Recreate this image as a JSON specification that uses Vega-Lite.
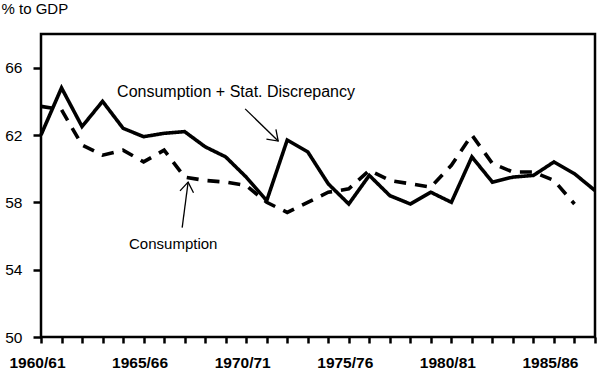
{
  "$schema": "https://vega.github.io/schema/vega-lite/v6.json",
  "autosize": {"type": "none"},
  "padding": {"left": 41, "top": 34, "right": 5, "bottom": 33},
  "width": 554,
  "height": 303,
  "config": {
    "view": {"stroke": "#000", "strokeWidth": 2.5},
    "font": "Liberation Sans",
    "axis": {"domain": false, "grid": false, "tickColor": "#000", "tickWidth": 2.5, "labelColor": "#000", "titleColor": "#000", "labelFont": "Liberation Sans", "titleFont": "Liberation Sans"}
  },
  "datasets": {
    "series": [
      {"year": 1960, "cons_sd": 62.0, "cons": 63.7},
      {"year": 1961, "cons_sd": 64.8, "cons": 63.5},
      {"year": 1962, "cons_sd": 62.5, "cons": 61.4},
      {"year": 1963, "cons_sd": 64.0, "cons": 60.8},
      {"year": 1964, "cons_sd": 62.4, "cons": 61.1},
      {"year": 1965, "cons_sd": 61.9, "cons": 60.4},
      {"year": 1966, "cons_sd": 62.1, "cons": 61.1},
      {"year": 1967, "cons_sd": 62.2, "cons": 59.5},
      {"year": 1968, "cons_sd": 61.3, "cons": 59.3},
      {"year": 1969, "cons_sd": 60.7, "cons": 59.2},
      {"year": 1970, "cons_sd": 59.5, "cons": 59.0},
      {"year": 1971, "cons_sd": 58.1, "cons": 58.0},
      {"year": 1972, "cons_sd": 61.7, "cons": 57.4},
      {"year": 1973, "cons_sd": 61.0, "cons": 58.0},
      {"year": 1974, "cons_sd": 59.1, "cons": 58.6},
      {"year": 1975, "cons_sd": 57.9, "cons": 58.8},
      {"year": 1976, "cons_sd": 59.6, "cons": 59.9},
      {"year": 1977, "cons_sd": 58.4, "cons": 59.3},
      {"year": 1978, "cons_sd": 57.9, "cons": 59.1},
      {"year": 1979, "cons_sd": 58.6, "cons": 58.9},
      {"year": 1980, "cons_sd": 58.0, "cons": 60.2},
      {"year": 1981, "cons_sd": 60.7, "cons": 62.0},
      {"year": 1982, "cons_sd": 59.2, "cons": 60.3},
      {"year": 1983, "cons_sd": 59.5, "cons": 59.8},
      {"year": 1984, "cons_sd": 59.6, "cons": 59.8},
      {"year": 1985, "cons_sd": 60.4, "cons": 59.3},
      {"year": 1986, "cons_sd": 59.7, "cons": 57.9},
      {"year": 1987, "cons_sd": 58.7, "cons": null}
    ],
    "labels": [
      {"label": "Consumption + Stat. Discrepancy", "x": 1963.71, "y": 64.27, "size": "big"},
      {"label": "Consumption", "x": 1964.29, "y": 55.25, "size": "small"}
    ],
    "arrows": [
      {"arrow": "upper", "x": 1969.95, "y": 63.55, "x2": 1971.56, "y2": 61.64},
      {"arrow": "lower", "x": 1966.88, "y": 56.5, "x2": 1967.17, "y2": 59.2}
    ]
  },
  "encoding": {
    "x": {
      "type": "quantitative",
      "scale": {"domain": [1960, 1987], "nice": false, "zero": false},
      "axis": {
        "title": null,
        "values": [1960,1961,1962,1963,1964,1965,1966,1967,1968,1969,1970,1971,1972,1973,1974,1975,1976,1977,1978,1979,1980,1981,1982,1983,1984,1985,1986,1987],
        "labelExpr": "datum.value % 5 == 0 ? datum.value + '/' + substring(toString(datum.value + 1), 2, 4) : ''",
        "labelOverlap": false,
        "labelFlush": false,
        "labelOffset": -4,
        "tickSize": 6,
        "labelPadding": 12,
        "labelFontSize": 15.5,
        "labelFontWeight": "bold"
      }
    },
    "y": {
      "type": "quantitative",
      "scale": {"domain": [50, 68], "nice": false, "zero": false},
      "axis": {
        "title": "% to GDP",
        "values": [50, 54, 58, 62, 66],
        "tickSize": 8,
        "labelPadding": 11,
        "labelFontSize": 15.5,
        "labelFontWeight": "normal",
        "titleAngle": 0,
        "titleAlign": "left",
        "titleBaseline": "alphabetic",
        "titleX": -40,
        "titleY": -21,
        "titleFontSize": 15,
        "titleFontWeight": "normal"
      }
    }
  },
  "layer": [
    {
      "data": {"name": "series"},
      "transform": [{"fold": ["cons_sd", "cons"], "as": ["series", "value"]}, {"filter": "isValid(datum.value)"}],
      "mark": {"type": "line", "color": "#000", "strokeWidth": 3.6, "strokeJoin": "miter", "strokeCap": "butt"},
      "encoding": {
        "x": {"field": "year"},
        "y": {"field": "value"},
        "detail": {"field": "series", "type": "nominal"},
        "strokeDash": {"field": "series", "type": "nominal", "scale": {"domain": ["cons_sd", "cons"], "range": [[1, 0], [12, 9]]}, "legend": null}
      }
    },
    {
      "data": {"name": "labels"},
      "transform": [{"filter": "datum.size == 'big'"}],
      "mark": {"type": "text", "align": "left", "baseline": "alphabetic", "fontSize": 16, "color": "#000"},
      "encoding": {"x": {"field": "x"}, "y": {"field": "y"}, "text": {"field": "label"}}
    },
    {
      "data": {"name": "labels"},
      "transform": [{"filter": "datum.size == 'small'"}],
      "mark": {"type": "text", "align": "left", "baseline": "alphabetic", "fontSize": 15, "color": "#000"},
      "encoding": {"x": {"field": "x"}, "y": {"field": "y"}, "text": {"field": "label"}}
    },
    {
      "data": {"name": "arrows"},
      "mark": {"type": "rule", "color": "#000", "strokeWidth": 1.3},
      "encoding": {"x": {"field": "x"}, "y": {"field": "y"}, "x2": {"field": "x2"}, "y2": {"field": "y2"}}
    },
    {
      "data": {"name": "arrows"},
      "transform": [{"filter": "datum.arrow == 'upper'"}],
      "mark": {"type": "point", "shape": "M-1,-0.7L0,0L-1,0.7", "filled": false, "stroke": "#000", "strokeWidth": 1.3, "size": 380, "angle": 44, "opacity": 1},
      "encoding": {"x": {"field": "x2"}, "y": {"field": "y2"}}
    },
    {
      "data": {"name": "arrows"},
      "transform": [{"filter": "datum.arrow == 'lower'"}],
      "mark": {"type": "point", "shape": "M-1,-0.7L0,0L-1,0.7", "filled": false, "stroke": "#000", "strokeWidth": 1.3, "size": 380, "angle": 278, "opacity": 1},
      "encoding": {"x": {"field": "x2"}, "y": {"field": "y2"}}
    }
  ]
}
